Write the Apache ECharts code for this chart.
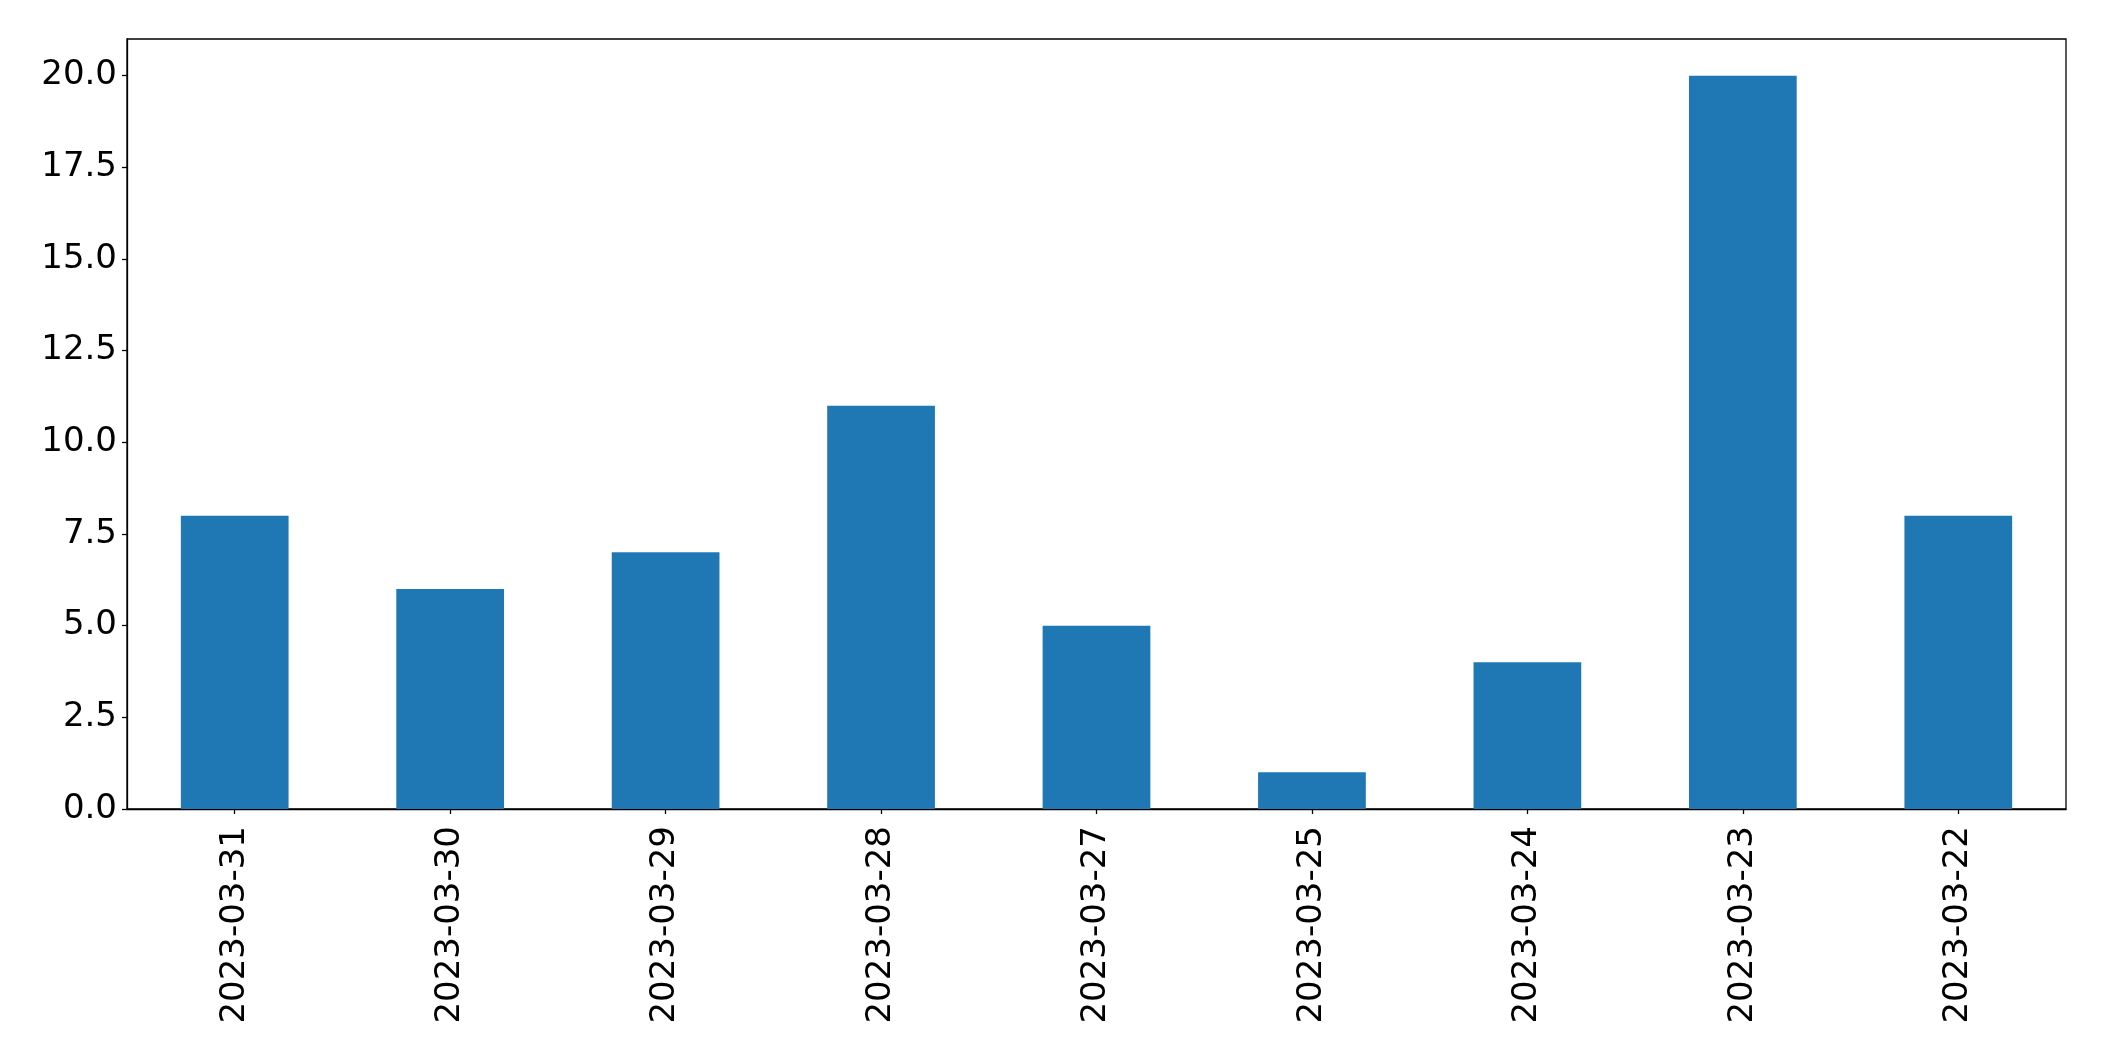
<!DOCTYPE html>
<html>
<head>
<meta charset="utf-8">
<script src="https://cdn.jsdelivr.net/npm/echarts@6/dist/echarts.min.js"></script>
<style>
html,body{margin:0;padding:0;background:#fff;}
#chart{width:2104px;height:1061px;}
</style>
</head>
<body>
<div id="chart"></div>
<script>
var categories = ['2023-03-31','2023-03-30','2023-03-29','2023-03-28','2023-03-27','2023-03-25','2023-03-24','2023-03-23','2023-03-22'];
var values = [8, 6, 7, 11, 5, 1, 4, 20, 8];
var yTicks = [0, 2.5, 5, 7.5, 10, 12.5, 15, 17.5, 20];

var chart = echarts.init(document.getElementById('chart'), null, {renderer: 'canvas'});
var font = 'DejaVu Sans';
chart.setOption({
  animation: false,
  backgroundColor: '#fff',
  grid: {
    left: 127, right: 38, top: 39, bottom: 252,
    show: true, borderColor: '#000', borderWidth: 1.3, backgroundColor: 'transparent'
  },
  xAxis: {
    type: 'category',
    data: categories,
    boundaryGap: true,
    axisLine: {show: true, lineStyle: {color: '#000', width: 1.3}},
    axisTick: {show: true, alignWithLabel: true, length: 5, lineStyle: {color: '#000', width: 1.3}},
    axisLabel: {rotate: 90, margin: 17, color: '#000', fontFamily: font, fontSize: 34, interval: 0},
    splitLine: {show: false}
  },
  yAxis: {
    type: 'value',
    min: 0, max: 21,
    axisLine: {show: true, lineStyle: {color: '#000', width: 1.3}},
    axisTick: {show: true, length: 5, customValues: yTicks, lineStyle: {color: '#000', width: 1.3}},
    axisLabel: {
      customValues: yTicks, margin: 10, color: '#000', fontFamily: font, fontSize: 34,
      formatter: function (v) { return Number(v).toFixed(1); }
    },
    splitLine: {show: false}
  },
  series: [{
    type: 'bar',
    data: values,
    barWidth: '50%',
    itemStyle: {color: '#1f77b4'}
  }]
});
</script>
</body>
</html>
